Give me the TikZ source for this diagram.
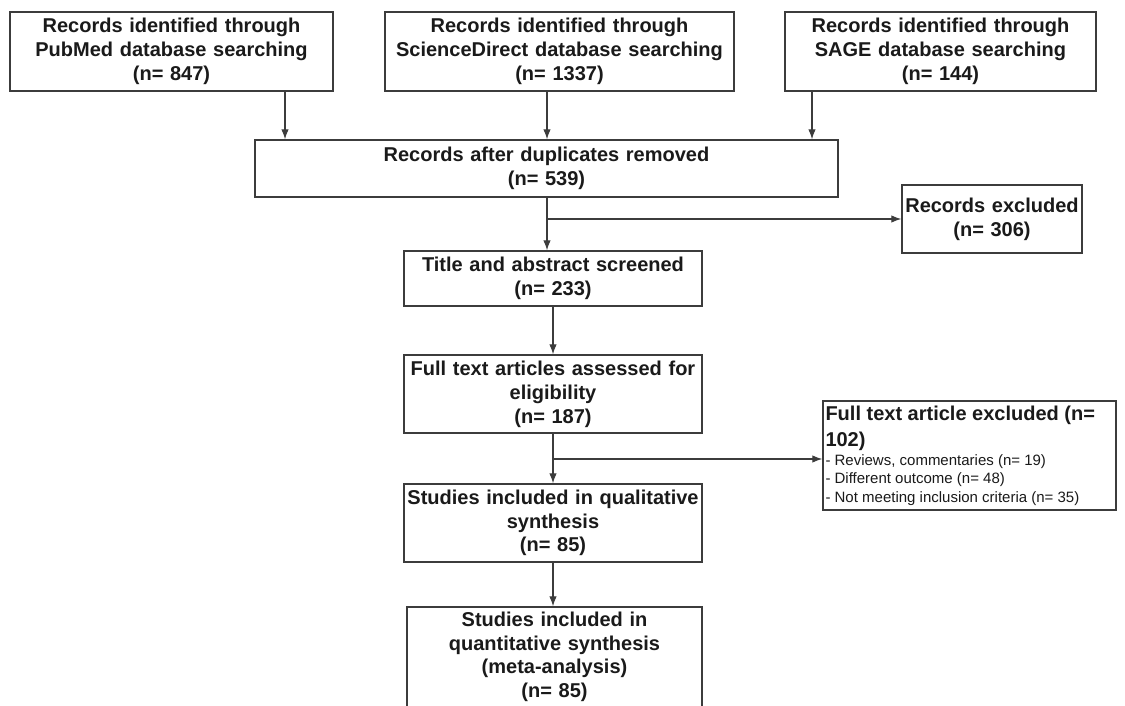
\documentclass[tikz,border=0pt]{standalone}
\usepackage{fontspec}
\setmainfont{Liberation Sans}
\usetikzlibrary{arrows.meta}
\definecolor{edge}{HTML}{3C3C3C}
\definecolor{ink}{HTML}{1A1A1A}
\begin{document}
\begin{tikzpicture}[x=1pt,y=-1pt,
  box/.style={draw=edge, line width=1.4pt, rectangle, inner sep=1pt, align=center,
    font=\fontsize{20}{24}\selectfont\bfseries, text=ink},
  arr/.style={draw=edge, line width=1.2pt, -{Latex[length=10pt,width=7.5pt]}}]
\useasboundingbox[fill=white] (0,0) rectangle (1125,706);
\clip (0,0) rectangle (1125,706);

\node[box, minimum width=323pt, minimum height=79pt, text width=318pt] (pub) at (171.5,51.5)
  {Records identified through\\PubMed database searching\\(n= 847)};
\node[box, minimum width=349pt, minimum height=79pt, text width=344pt] (sci) at (559.5,51.5)
  {Records identified through\\ScienceDirect database searching\\(n= 1337)};
\node[box, minimum width=311pt, minimum height=79pt, text width=306pt] (sage) at (940.5,51.5)
  {Records identified through\\SAGE database searching\\(n= 144)};
\node[box, minimum width=583pt, minimum height=57pt, text width=578pt] (dup) at (546.5,168.5)
  {Records after duplicates removed\\(n= 539)};
\node[box, minimum width=180pt, minimum height=68pt, text width=177pt] (exc1) at (992,219)
  {Records excluded\\(n= 306)};
\node[box, minimum width=298pt, minimum height=55pt, text width=294pt] (title) at (553,278.5)
  {Title and abstract screened\\(n= 233)};
\node[box, minimum width=298pt, minimum height=78pt, text width=294pt] (full) at (553,394)
  {Full text articles assessed for\\eligibility\\(n= 187)};
\node[box, minimum width=298pt, minimum height=78pt, text width=294pt, font=\fontsize{20}{23.5}\selectfont\bfseries] (qual) at (553,523)
  {Studies included in qualitative\\synthesis\\(n= 85)};
\node[box, minimum width=295pt, minimum height=100pt, text width=291pt, font=\fontsize{20}{23.5}\selectfont\bfseries] (quant) at (554.5,657)
  {Studies included in\\quantitative synthesis\\(meta-analysis)\\(n= 85)};
\node[box, minimum width=293pt, minimum height=109pt, text width=288pt, align=flush left, font={}] (exc2) at (969.5,455.5)
  {\parindent=0pt\parskip=0pt\spaceskip=0pt\xspaceskip=0pt\vspace*{6pt}%
   {\fontsize{20}{20.5}\selectfont\bfseries Full text article excluded (n=\par 102)\par}%
   {\fontsize{15}{18.5}\selectfont - Reviews, commentaries (n= 19)\par - Different outcome (n= 48)\par - Not meeting inclusion criteria (n= 35)\par}};

\coordinate (xa) at (285,0);
\coordinate (xb) at (547,0);
\coordinate (xc) at (812,0);
\coordinate (br2) at (553,459);

\draw[arr] (pub.south -| xa) -- (dup.north -| xa);
\draw[arr] (sci.south -| xb) -- (dup.north -| xb);
\draw[arr] (sage.south -| xc) -- (dup.north -| xc);
\draw[arr] (dup.south -| xb) -- (title.north -| xb);
\draw[arr] (xb |- exc1.west) -- (exc1.west);
\draw[arr] (title.south) -- (full.north);
\draw[arr] (full.south) -- (qual.north);
\draw[arr] (br2) -- (br2 -| exc2.west);
\draw[arr] (qual.south) -- (qual.south |- quant.north);
\end{tikzpicture}
\end{document}
